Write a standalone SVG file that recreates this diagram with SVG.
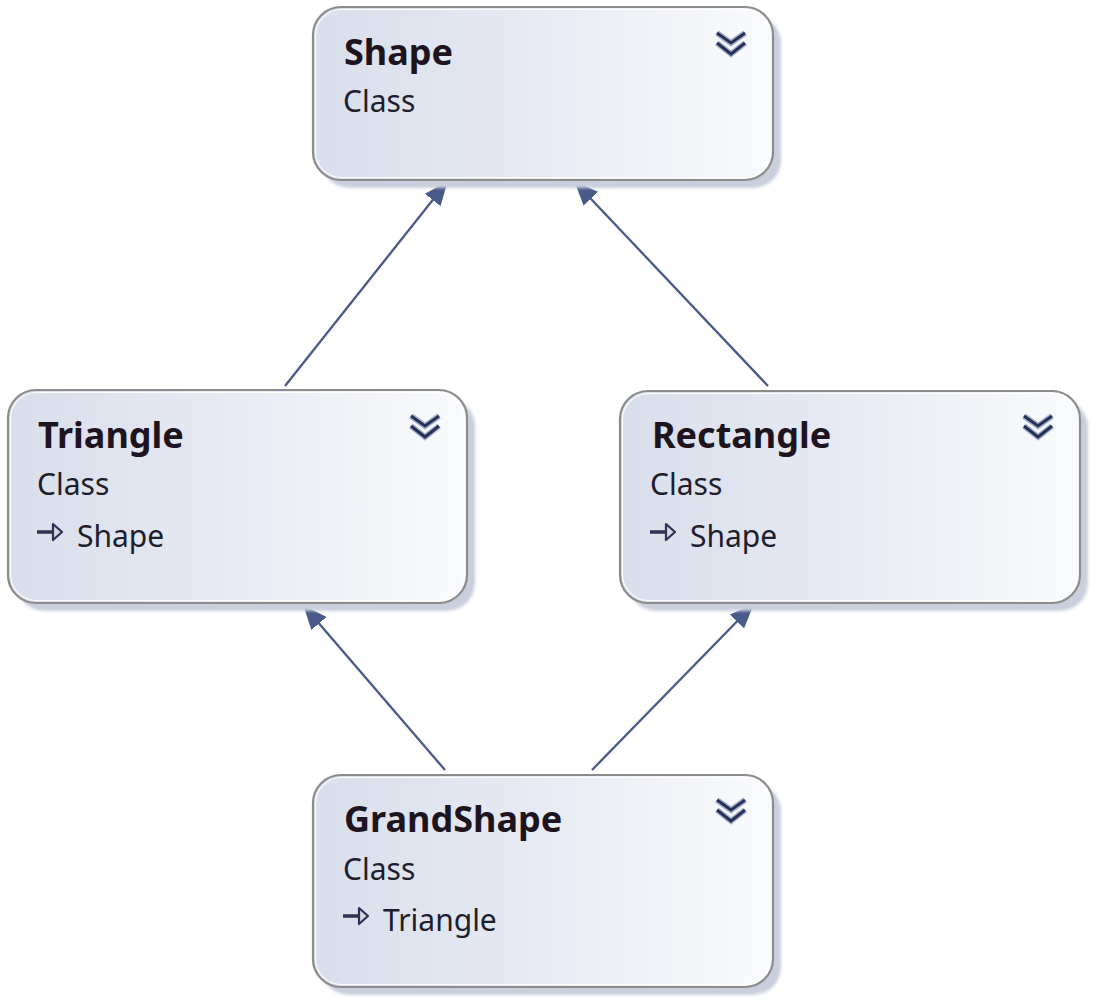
<svg xmlns="http://www.w3.org/2000/svg" width="1100" height="1003" viewBox="0 0 1100 1003">
<defs>
<style>
.shadow{fill:#c9cfdd;filter:url(#blur)}
.box{fill:url(#grad);stroke:#8c8c8c;stroke-width:2.2}
.inner{fill:none;stroke:#ffffff;stroke-width:1.2;opacity:0.9}
.title{font-family:"Noto Sans","Open Sans",sans-serif;font-weight:bold;font-size:36px;fill:#1d1420}
.sub{font-family:"Noto Sans","Open Sans",sans-serif;font-size:30px;fill:#1e1e2c}
.chev-halo{fill:none;stroke:#aab3cc;stroke-width:6;stroke-linejoin:miter}
.chev{fill:none;stroke:#26315a;stroke-width:3}
.conn{stroke:#4a5a88;stroke-width:2.3;fill:none}
.icon-line{stroke:#2c3350;stroke-width:3.5}
.icon-tri{fill:#d4d8e2;stroke:#2c3350;stroke-width:2.2;stroke-linejoin:round}
</style>
<linearGradient id="grad" x1="0" y1="0" x2="1" y2="0">
<stop offset="0" stop-color="#d8deeb"/>
<stop offset="0.45" stop-color="#e6e9f2"/>
<stop offset="0.75" stop-color="#f1f3f8"/>
<stop offset="1" stop-color="#fafbfd"/>
</linearGradient>
<filter id="blur" x="-5%" y="-5%" width="110%" height="110%">
<feGaussianBlur stdDeviation="1.5"/>
</filter>
<marker id="arrow" markerUnits="userSpaceOnUse" markerWidth="24" markerHeight="20" viewBox="0 0 24 20" refX="23" refY="10" orient="auto">
<path d="M0,0 L24,10 L0,20 Z" fill="#4a5a88"/>
</marker>
<g id="chevron">
<path class="chev-halo" d="M-14,-12 L0,-2 L14,-12 M-14,-2 L0,9 L14,-2"/>
<path class="chev" d="M-14,-12 L0,-2 L14,-12 M-14,-2 L0,9 L14,-2"/>
</g>
<g id="inherit-icon">
<line class="icon-line" x1="0" y1="0" x2="15" y2="0"/>
<path class="icon-tri" d="M16,-8 L25,0 L16,8 Z"/>
</g>
</defs>
<rect width="1100" height="1003" fill="#ffffff"/>

<g id="connectors">
<line class="conn" x1="285" y1="386" x2="447" y2="182" marker-end="url(#arrow)"/>
<line class="conn" x1="768" y1="386" x2="575" y2="182" marker-end="url(#arrow)"/>
<line class="conn" x1="445" y1="770" x2="304" y2="606" marker-end="url(#arrow)"/>
<line class="conn" x1="592" y1="770" x2="753" y2="605" marker-end="url(#arrow)"/>
</g>

<g id="node-shape">
<rect class="shadow" x="321" y="15" width="460" height="173" rx="28"/>
<rect class="box" x="313" y="7" width="460" height="173" rx="28"/>
<rect class="inner" x="315.5" y="9.5" width="455" height="168" rx="26"/>
<text class="title" x="344" y="65">Shape</text>
<text class="sub" x="343" y="112">Class</text>
<use href="#chevron" x="731" y="45"/>
</g>

<g id="node-triangle">
<rect class="shadow" x="16" y="398" width="459" height="213" rx="28"/>
<rect class="box" x="8" y="390" width="459" height="213" rx="28"/>
<rect class="inner" x="10.5" y="392.5" width="454" height="208" rx="26"/>
<text class="title" x="38" y="448">Triangle</text>
<text class="sub" x="37" y="495">Class</text>
<use href="#inherit-icon" x="37" y="532"/>
<text class="sub" x="77" y="547">Shape</text>
<use href="#chevron" x="425" y="428"/>
</g>

<g id="node-rectangle">
<rect class="shadow" x="628" y="399" width="460" height="212" rx="28"/>
<rect class="box" x="620" y="391" width="460" height="212" rx="28"/>
<rect class="inner" x="622.5" y="393.5" width="455" height="207" rx="26"/>
<text class="title" x="652" y="448">Rectangle</text>
<text class="sub" x="650" y="495">Class</text>
<use href="#inherit-icon" x="650" y="532"/>
<text class="sub" x="690" y="547">Shape</text>
<use href="#chevron" x="1038" y="428"/>
</g>

<g id="node-grandshape">
<rect class="shadow" x="321" y="783" width="460" height="212" rx="28"/>
<rect class="box" x="313" y="775" width="460" height="212" rx="28"/>
<rect class="inner" x="315.5" y="777.5" width="455" height="207" rx="26"/>
<text class="title" x="344" y="832">GrandShape</text>
<text class="sub" x="343" y="880">Class</text>
<use href="#inherit-icon" x="343" y="916"/>
<text class="sub" x="383" y="931">Triangle</text>
<use href="#chevron" x="731" y="812"/>
</g>
</svg>
